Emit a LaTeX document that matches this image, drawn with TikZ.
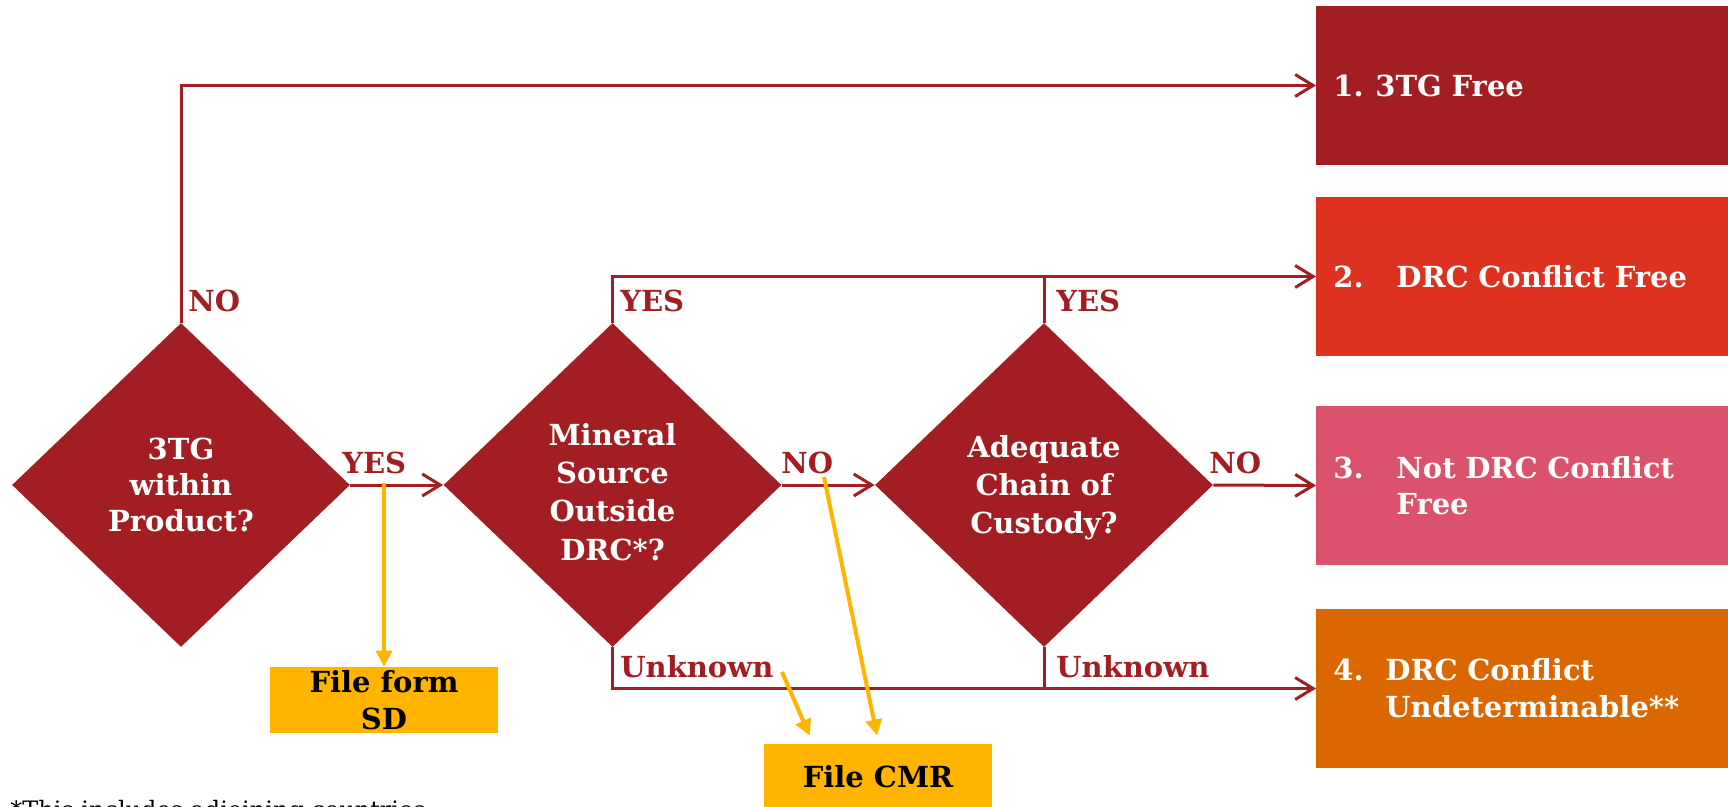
\documentclass[tikz,border=0pt]{standalone}
\usepackage{fontspec}
\setmainfont{DejaVu Serif}
\usetikzlibrary{shapes.geometric,arrows.meta,calc}
\definecolor{dred}{HTML}{A21E22}
\definecolor{cred}{HTML}{DD3220}
\definecolor{cpink}{HTML}{DA526B}
\definecolor{corange}{HTML}{DA6700}
\definecolor{cyel}{HTML}{FFB400}
\newcommand{\lowerby}[2]{\raisebox{-#1}[\height][\depth]{#2}}
\tikzset{
  dia/.style={diamond, fill=dred, text=white, align=center, inner sep=0pt,
    minimum width=169pt, minimum height=162pt,
    font=\bfseries\fontsize{14.5}{18}\selectfont},
  outbox/.style={rectangle, anchor=west, minimum height=79.5pt, text width=190pt,
    inner xsep=8.5pt, inner ysep=0pt, align=left, text=white,
    font=\bfseries\fontsize{14.5}{18.3}\selectfont},
  filebox/.style={rectangle, fill=cyel, minimum width=114pt, minimum height=33pt,
    inner sep=0pt, align=center, text=black,
    font=\bfseries\fontsize{14.5}{18.5}\selectfont},
  lab/.style={anchor=west, inner sep=0pt, text=dred,
    font=\bfseries\fontsize{14.5}{17}\selectfont},
  conn/.style={draw=dred, line width=1.5pt,
    -{Straight Barb[length=9pt,width=11pt]}},
  plainconn/.style={draw=dred, line width=1.5pt},
  yarr/.style={draw=cyel, line width=2pt, -{Triangle[length=8pt,width=8pt]}}
}
\begin{document}
\begin{tikzpicture}[x=0.5pt,y=-0.5pt]
\useasboundingbox (0,0) rectangle (1728,807);
\clip (0,0) rectangle (1728,807);

% decision diamonds
\node[dia] (d1) at (181,485) {3TG\\within\\Product?};
\node[dia, font=\bfseries\fontsize{14.5}{19.2}\selectfont] (d2) at (612.5,485)
  {\lowerby{5pt}{\begin{tabular}{@{}c@{}}Mineral\\Source\\Outside\\DRC*?\end{tabular}}};
\node[dia, font=\bfseries\fontsize{14.5}{19}\selectfont] (d3) at (1044,485)
  {\lowerby{1.5pt}{\begin{tabular}{@{}c@{}}Adequate\\Chain of\\Custody?\end{tabular}}};

% outcome boxes
\node[outbox, fill=dred] (b1) at (1316,85.5) {\makebox[21pt][l]{1.}3TG Free};
\node[outbox, fill=cred] (b2) at (1316,276.5) {\makebox[31.5pt][l]{2.}DRC Conflict Free};
\node[outbox, fill=cpink] (b3) at (1316,485.5)
  {\lowerby{1.8pt}{\begin{tabular}{@{}p{31.5pt}@{}l@{}}3.&Not DRC Conflict\\&Free\end{tabular}}};
\node[outbox, fill=corange] (b4) at (1316,688.5)
  {\lowerby{1.5pt}{\begin{tabular}{@{}p{26pt}@{}l@{}}4.&DRC Conflict\\&Undeterminable**\end{tabular}}};

% filing boxes
\node[filebox] (sd) at (384,700) {File form\\SD};
\node[filebox] (cmr) at (878,777) {File CMR};

% red connectors
\draw[conn] (d1.north) |- (b1.west);
\draw[conn] (d2.north) |- (b2.west);
\draw[plainconn] (d3.north) -- (d3.north |- b2.west);
\draw[conn] (d1.east) -- (d2.west);
\draw[conn] (d2.east) -- (d3.west);
\draw[conn] (d3.east) -- (b3.west);
\draw[conn] (d2.south) |- (b4.west);
\draw[plainconn] (d3.south) -- (d3.south |- b4.west);

% labels
\node[lab] (no1) at (188,301) {NO};
\node[lab] (yes1) at (342,463) {YES};
\node[lab] (yes2) at (620,301) {YES};
\node[lab] (yes3) at (1056,301) {YES};
\node[lab] (no2) at (781,463) {NO};
\node[lab] (no3) at (1209,463) {NO};
\node[lab] (unk1) at (620,667) {Unknown};
\node[lab] (unk2) at (1056,667) {Unknown};

% yellow connectors
\coordinate (ysd) at (384,483);
\draw[yarr] (ysd) -- (sd.north);
\coordinate (yu1) at (782,672);
\coordinate (tip1) at ($(cmr.north west)+(46,-8)$);
\draw[yarr] (yu1) -- (tip1);
\coordinate (yn2) at (824,477);
\coordinate (tip2) at ($(cmr.north)+(-1,-8)$);
\draw[yarr] (yn2) -- (tip2);

% footnote (cut off by the page edge, as in the reference)
\node[anchor=base west, inner sep=0pt, font=\fontsize{12}{14}\selectfont] (fn) at (10,818) {*This includes adjoining countries};
\end{tikzpicture}
\end{document}
